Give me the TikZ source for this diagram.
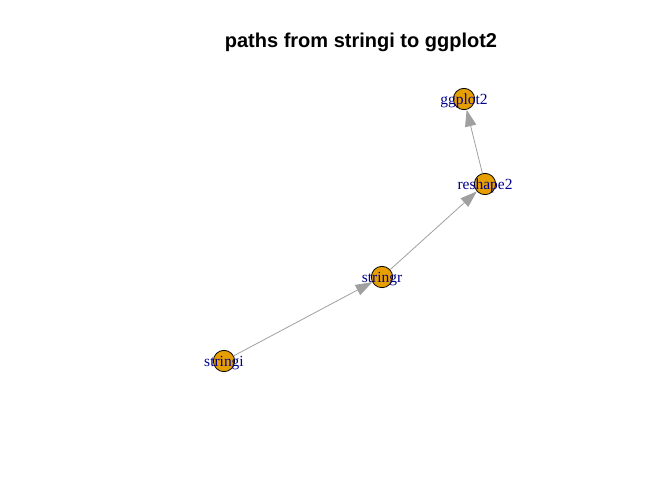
\documentclass[tikz,border=0pt]{standalone}
\usepackage{fontspec}
\setmainfont{Liberation Serif}
\newfontfamily\titlefont{Liberation Sans}
\usetikzlibrary{arrows.meta}
\definecolor{vfill}{HTML}{E69F00}
\definecolor{vlab}{HTML}{00008B}
\definecolor{egray}{HTML}{A0A0A0}
\tikzset{
  vert/.style={circle, draw=black, line width=0.6pt, fill=vfill, minimum size=16pt, inner sep=0pt},
  vlabel/.style={text=vlab, font=\fontsize{11.6pt}{12pt}\selectfont, inner sep=0pt},
  edge/.style={draw=egray, line width=0.6pt, -{Triangle[length=12.5pt,width=8.5pt]}}
}
\begin{document}
\begin{tikzpicture}[x=0.75pt,y=-0.75pt]
\useasboundingbox (0,0) rectangle (672,480);
\node[font=\titlefont\bfseries\fontsize{15pt}{17pt}\selectfont] (title) at (361,42) {paths from stringi to ggplot2};
\node[vert] (stringi) at (224,361) {};
\node[vert] (stringr) at (382,277) {};
\node[vert] (reshape2) at (485,184) {};
\node[vert] (ggplot2) at (464,99) {};
\draw[edge] (stringi) -- (stringr);
\draw[edge] (stringr) -- (reshape2);
\draw[edge] (reshape2) -- (ggplot2);
\node[vlabel] (lstringi) at ([yshift=-1.2pt]stringi) {stringi};
\node[vlabel] (lstringr) at ([yshift=-1.2pt]stringr) {stringr};
\node[vlabel] (lreshape2) at ([yshift=-1.2pt]reshape2) {reshape2};
\node[vlabel] (lggplot2) at ([yshift=-1.2pt]ggplot2) {ggplot2};
\end{tikzpicture}
\end{document}
